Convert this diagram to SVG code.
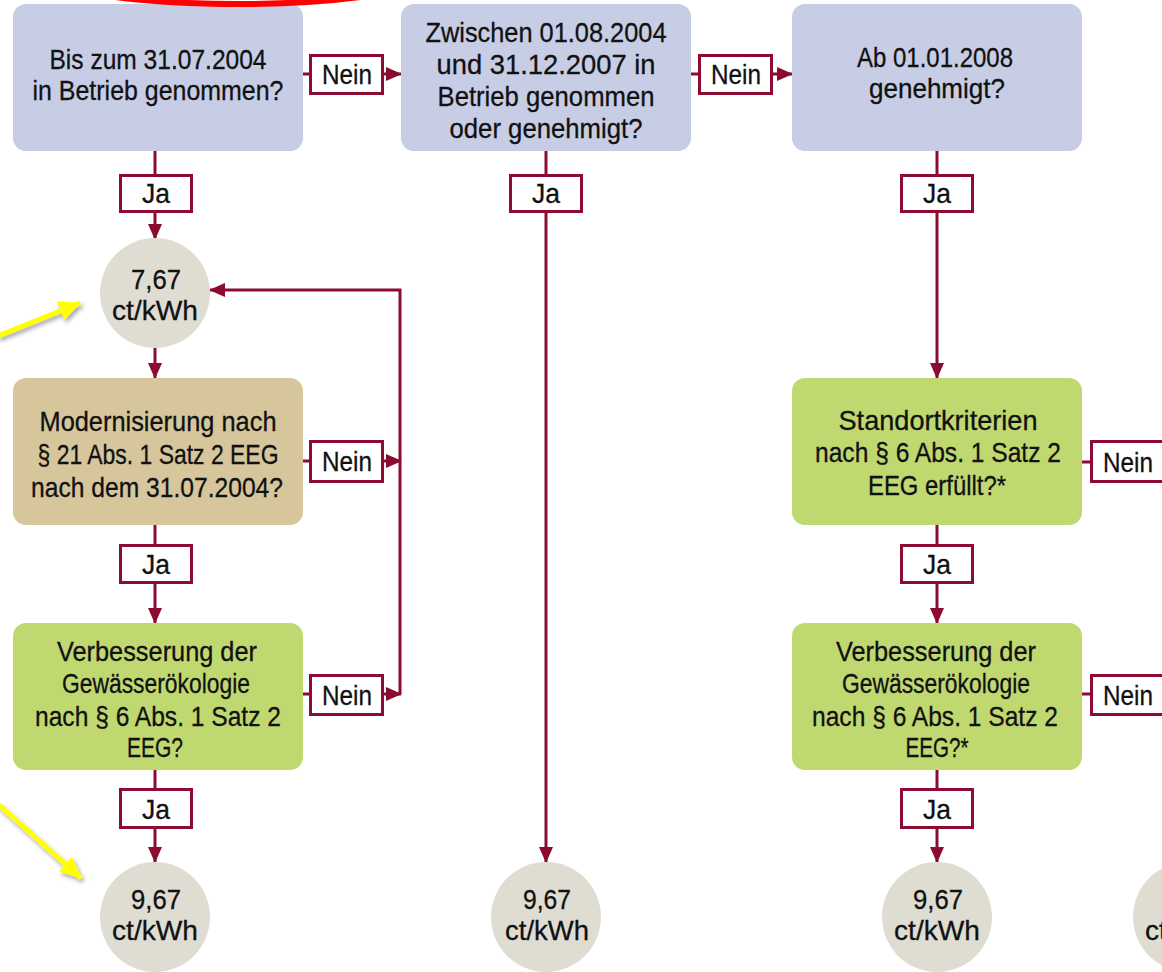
<svg xmlns="http://www.w3.org/2000/svg" width="1162" height="972" viewBox="0 0 1162 972">
<style>
.q{fill:#c7cde5}
.t{fill:#d7c69c}
.g{fill:#c0d870}
.c{fill:#dfddd2}
.lb{fill:#fff;stroke:#8b0c30;stroke-width:3}
.ln{fill:none;stroke:#8b0c30;stroke-width:3}
.ar{fill:none;stroke:#8b0c30;stroke-width:3;marker-end:url(#ah)}
text{font-family:"Liberation Sans",Arial,sans-serif;font-size:28px;fill:#111;text-anchor:middle;stroke:#111;stroke-width:0.3}
.y{fill:none;stroke:#ffff00;stroke-width:5;marker-end:url(#yh);filter:url(#sh)}
</style>
<defs>
<marker id="ah" markerUnits="userSpaceOnUse" viewBox="0 0 16 14" refX="15" refY="7" markerWidth="16" markerHeight="14" orient="auto"><path d="M0,0 L16,7 L0,14 Z" fill="#8b0c30"/></marker>
<marker id="yh" markerUnits="userSpaceOnUse" viewBox="0 0 22 20" refX="21" refY="10" markerWidth="22" markerHeight="20" orient="auto"><path d="M0,0 L22,10 L0,20 Z" fill="#ffff00"/></marker>
<filter id="sh" x="-20%" y="-20%" width="140%" height="140%"><feDropShadow dx="2" dy="3" stdDeviation="2" flood-color="#000" flood-opacity="0.35"/></filter>
</defs>

<g id="connectors">
<path class="ln" d="M303,74 H310"/>
<path class="ar" d="M383,74 H401"/>
<path class="ln" d="M691,74 H699"/>
<path class="ar" d="M772,74 H792"/>
<path class="ln" d="M155,151 V175"/>
<path class="ar" d="M155,212 V239"/>
<path class="ar" d="M155,348 V378"/>
<path class="ln" d="M303,461 H310"/>
<path class="ar" d="M383,461 H401"/>
<path class="ar" d="M400,694 V290 H210"/>
<path class="ln" d="M303,694 H310"/>
<path class="ar" d="M383,694 H401"/>
<path class="ln" d="M155,525 V545"/>
<path class="ar" d="M155,583 V623"/>
<path class="ln" d="M155,770 V789"/>
<path class="ar" d="M155,828 V862"/>
<path class="ln" d="M546,151 V175"/>
<path class="ar" d="M546,212 V862"/>
<path class="ln" d="M937,151 V175"/>
<path class="ar" d="M937,212 V378"/>
<path class="ln" d="M937,525 V545"/>
<path class="ar" d="M937,583 V623"/>
<path class="ln" d="M937,770 V789"/>
<path class="ar" d="M937,828 V862"/>
<path class="ln" d="M1082,462 H1091"/>
<path class="ln" d="M1082,694 H1091"/>
</g>

<g id="n1"><rect class="q" x="13" y="4" width="290" height="147" rx="13"/>
<text x="158" y="69" textLength="217" lengthAdjust="spacingAndGlyphs">Bis zum 31.07.2004</text>
<text x="158" y="100" textLength="251" lengthAdjust="spacingAndGlyphs">in Betrieb genommen?</text></g>

<g id="n2"><rect class="q" x="401" y="4" width="290" height="147" rx="13"/>
<text x="546" y="42" textLength="241" lengthAdjust="spacingAndGlyphs">Zwischen 01.08.2004</text>
<text x="546" y="74" textLength="219" lengthAdjust="spacingAndGlyphs">und 31.12.2007 in</text>
<text x="546" y="106" textLength="217" lengthAdjust="spacingAndGlyphs">Betrieb genommen</text>
<text x="546" y="138" textLength="193" lengthAdjust="spacingAndGlyphs">oder genehmigt?</text></g>

<g id="n3"><rect class="q" x="792" y="4" width="290" height="147" rx="13"/>
<text x="935" y="67" textLength="156" lengthAdjust="spacingAndGlyphs">Ab 01.01.2008</text>
<text x="937" y="98" textLength="136" lengthAdjust="spacingAndGlyphs">genehmigt?</text></g>

<g id="c1"><circle class="c" cx="155" cy="293" r="55"/>
<text x="156" y="289" textLength="50" lengthAdjust="spacingAndGlyphs">7,67</text>
<text x="155" y="320" textLength="86" lengthAdjust="spacingAndGlyphs">ct/kWh</text></g>

<g id="n4"><rect class="t" x="13" y="378" width="290" height="147" rx="13"/>
<text x="158" y="431" textLength="237" lengthAdjust="spacingAndGlyphs">Modernisierung nach</text>
<text x="158" y="464" textLength="241" lengthAdjust="spacingAndGlyphs">§ 21 Abs. 1 Satz 2 EEG</text>
<text x="157" y="497" textLength="252" lengthAdjust="spacingAndGlyphs">nach dem 31.07.2004?</text></g>

<g id="n5"><rect class="g" x="13" y="623" width="290" height="147" rx="13"/>
<text x="157" y="661" textLength="200" lengthAdjust="spacingAndGlyphs">Verbesserung der</text>
<text x="156" y="693" textLength="188" lengthAdjust="spacingAndGlyphs">Gewässerökologie</text>
<text x="158" y="726" textLength="246" lengthAdjust="spacingAndGlyphs">nach § 6 Abs. 1 Satz 2</text>
<text x="155" y="757" textLength="56" lengthAdjust="spacingAndGlyphs">EEG?</text></g>

<g id="c2"><circle class="c" cx="155" cy="917" r="55"/>
<text x="156" y="909" textLength="50" lengthAdjust="spacingAndGlyphs">9,67</text>
<text x="155" y="940" textLength="86" lengthAdjust="spacingAndGlyphs">ct/kWh</text></g>

<g id="c3"><circle class="c" cx="546" cy="917" r="55"/>
<text x="547" y="909" textLength="48" lengthAdjust="spacingAndGlyphs">9,67</text>
<text x="547" y="940" textLength="84" lengthAdjust="spacingAndGlyphs">ct/kWh</text></g>

<g id="n6"><rect class="g" x="792" y="378" width="290" height="147" rx="13"/>
<text x="938" y="430" textLength="199" lengthAdjust="spacingAndGlyphs">Standortkriterien</text>
<text x="938" y="462" textLength="246" lengthAdjust="spacingAndGlyphs">nach § 6 Abs. 1 Satz 2</text>
<text x="937" y="495" textLength="138" lengthAdjust="spacingAndGlyphs">EEG erfüllt?*</text></g>

<g id="n7"><rect class="g" x="792" y="623" width="290" height="147" rx="13"/>
<text x="936" y="661" textLength="200" lengthAdjust="spacingAndGlyphs">Verbesserung der</text>
<text x="936" y="693" textLength="188" lengthAdjust="spacingAndGlyphs">Gewässerökologie</text>
<text x="935" y="726" textLength="246" lengthAdjust="spacingAndGlyphs">nach § 6 Abs. 1 Satz 2</text>
<text x="937" y="757" textLength="63" lengthAdjust="spacingAndGlyphs">EEG?*</text></g>

<g id="c4"><circle class="c" cx="937" cy="917" r="55"/>
<text x="938" y="909" textLength="50" lengthAdjust="spacingAndGlyphs">9,67</text>
<text x="937" y="940" textLength="86" lengthAdjust="spacingAndGlyphs">ct/kWh</text></g>

<g id="c5"><circle class="c" cx="1188" cy="917" r="55"/>
<text x="1189" y="909" textLength="50" lengthAdjust="spacingAndGlyphs">9,67</text>
<text x="1188" y="940" textLength="86" lengthAdjust="spacingAndGlyphs">ct/kWh</text></g>

<g id="labels">
<g id="l1"><rect class="lb" x="310.5" y="55.5" width="72" height="38"/><text x="347" y="84" textLength="50" lengthAdjust="spacingAndGlyphs">Nein</text></g>
<g id="l2"><rect class="lb" x="699.5" y="55.5" width="72" height="38"/><text x="736" y="84" textLength="50" lengthAdjust="spacingAndGlyphs">Nein</text></g>
<g id="l3"><rect class="lb" x="120.5" y="175.5" width="71" height="36"/><text x="156" y="203" textLength="28" lengthAdjust="spacingAndGlyphs">Ja</text></g>
<g id="l4"><rect class="lb" x="510.5" y="175.5" width="71" height="36"/><text x="546" y="203" textLength="28" lengthAdjust="spacingAndGlyphs">Ja</text></g>
<g id="l5"><rect class="lb" x="901.5" y="175.5" width="71" height="36"/><text x="937" y="203" textLength="28" lengthAdjust="spacingAndGlyphs">Ja</text></g>
<g id="l6"><rect class="lb" x="310.5" y="441.5" width="72" height="40"/><text x="347" y="471" textLength="50" lengthAdjust="spacingAndGlyphs">Nein</text></g>
<g id="l7"><rect class="lb" x="120.5" y="545.5" width="71" height="37"/><text x="156" y="574" textLength="28" lengthAdjust="spacingAndGlyphs">Ja</text></g>
<g id="l8"><rect class="lb" x="310.5" y="675.5" width="72" height="39"/><text x="347" y="705" textLength="50" lengthAdjust="spacingAndGlyphs">Nein</text></g>
<g id="l9"><rect class="lb" x="120.5" y="789.5" width="71" height="38"/><text x="156" y="819" textLength="28" lengthAdjust="spacingAndGlyphs">Ja</text></g>
<g id="l10"><rect class="lb" x="901.5" y="545.5" width="71" height="37"/><text x="937" y="574" textLength="28" lengthAdjust="spacingAndGlyphs">Ja</text></g>
<g id="l11"><rect class="lb" x="901.5" y="789.5" width="71" height="38"/><text x="937" y="819" textLength="28" lengthAdjust="spacingAndGlyphs">Ja</text></g>
<g id="l12"><rect class="lb" x="1091.5" y="441.5" width="80" height="40"/><text x="1128" y="472" textLength="50" lengthAdjust="spacingAndGlyphs">Nein</text></g>
<g id="l13"><rect class="lb" x="1091.5" y="675.5" width="80" height="39"/><text x="1128" y="705" textLength="50" lengthAdjust="spacingAndGlyphs">Nein</text></g>
</g>

<g id="annotations">
<ellipse cx="238" cy="-40" rx="225" ry="44" fill="none" stroke="#ff0000" stroke-width="6"/>
<path class="y" d="M-2,336 L80,303"/>
<path class="y" d="M-2,804 L81,878"/>
</g>
</svg>
